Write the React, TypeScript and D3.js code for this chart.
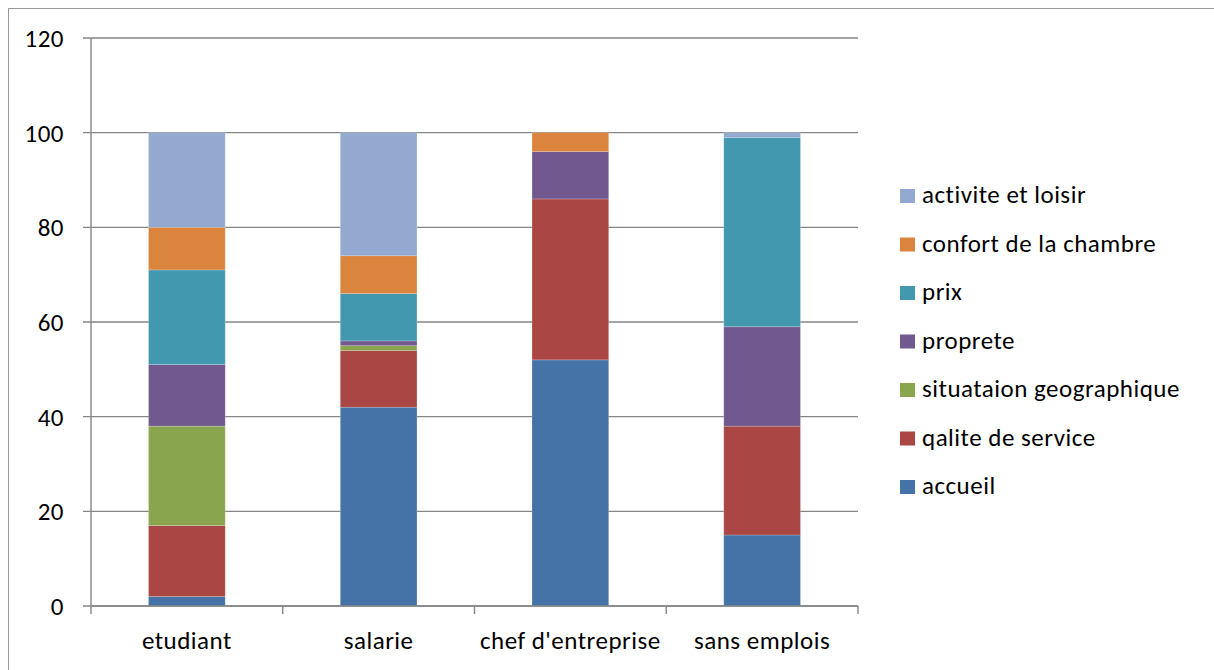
import React from "react";
import * as d3 from "d3";

const categories = ["etudiant", "salarie", "chef d'entreprise", "sans emplois"];
const seriesNames = [
  "accueil",
  "qalite de service",
  "situataion geographique",
  "proprete",
  "prix",
  "confort de la chambre",
  "activite et loisir",
];
const accueil = [2, 42, 52, 15];
const qaliteDeService = [15, 12, 34, 23];
const situationGeographique = [21, 1, 0, 0];
const proprete = [13, 1, 10, 21];
const prix = [20, 10, 0, 40];
const confortDeLaChambre = [9, 8, 4, 0];
const activiteEtLoisir = [20, 26, 0, 1];
const seriesColors = ["#4572A7", "#AA4643", "#89A54E", "#71588F", "#4198AF", "#DB843D", "#93A9CF"];
const yTicks = [0, 20, 40, 60, 80, 100, 120];

const seriesValues = [
  accueil,
  qaliteDeService,
  situationGeographique,
  proprete,
  prix,
  confortDeLaChambre,
  activiteEtLoisir,
];

const FONT = "Carlito, Calibri, Lato, sans-serif";
const FS = 25;
const LS = 0.5;

export default function App() {
  const W = 1214;
  const H = 670;
  const left = 91;
  const right = 858;
  const top = 38;
  const bottom = 606;

  const rows = categories.map((c, i) => {
    const r: Record<string, number | string> = { cat: c };
    seriesNames.forEach((s, k) => (r[s] = seriesValues[k][i]));
    return r;
  });
  const stacked = d3.stack<any>().keys(seriesNames)(rows);

  const x = d3.scaleBand().domain(categories).range([left, right]).paddingInner(0.6).paddingOuter(0.3);
  const xb = d3.scaleBand().domain(categories).range([left, right]);
  const y = d3.scaleLinear().domain([0, 120]).range([bottom, top]);

  const legendOrder = [...seriesNames].reverse();

  return (
    <svg width={W} height={H} style={{ position: "absolute", left: 0, top: 0, display: "block" }}>
      <rect x={0} y={0} width={W} height={H} fill="#fff" />
      <rect x={8.5} y={8.5} width={W + 20} height={H + 20} fill="none" stroke="#9a9a9a" strokeWidth={1} />

      {/* gridlines and value labels */}
      {yTicks.map((t) => (
        <g key={t}>
          <line x1={left - 8} x2={right} y1={y(t)} y2={y(t)} stroke="#868686" strokeWidth={1.4} />
          <text
            x={64}
            y={y(t) + 9}
            textAnchor="end"
            fontFamily={FONT}
            fontSize={FS}
            letterSpacing={LS}
            fill="#000"
          >
            {t}
          </text>
        </g>
      ))}

      {/* stacked bars */}
      {stacked.map((layer, k) =>
        layer.map((d, i) => {
          const h = y(d[0]) - y(d[1]);
          if (h <= 0) return null;
          return (
            <rect
              key={`${k}-${i}`}
              x={x(categories[i])!}
              y={y(d[1])}
              width={x.bandwidth()}
              height={h}
              fill={seriesColors[k]}
              stroke="rgba(255,255,255,0.25)"
              strokeWidth={0.8}
            />
          );
        })
      )}

      {/* axes */}
      <line x1={left} x2={left} y1={top} y2={bottom} stroke="#868686" strokeWidth={1.4} />
      <line x1={left} x2={right} y1={bottom} y2={bottom} stroke="#868686" strokeWidth={1.4} />
      {[...categories.map((c) => xb(c)!), right].map((xx, i) => (
        <line key={i} x1={xx} x2={xx} y1={bottom} y2={bottom + 8} stroke="#868686" strokeWidth={1.4} />
      ))}
      {categories.map((c) => (
        <text
          key={c}
          x={xb(c)! + xb.bandwidth() / 2}
          y={649}
          textAnchor="middle"
          fontFamily={FONT}
          fontSize={FS}
          letterSpacing={LS}
          fill="#000"
        >
          {c}
        </text>
      ))}

      {/* legend */}
      {legendOrder.map((s, j) => {
        const k = seriesNames.indexOf(s);
        const base = 203 + j * 48.5;
        return (
          <g key={s}>
            <rect x={900} y={base - 14} width={15} height={14} fill={seriesColors[k]} />
            <text x={922} y={base} fontFamily={FONT} fontSize={FS} letterSpacing={LS} fill="#000">
              {s}
            </text>
          </g>
        );
      })}
    </svg>
  );
}
